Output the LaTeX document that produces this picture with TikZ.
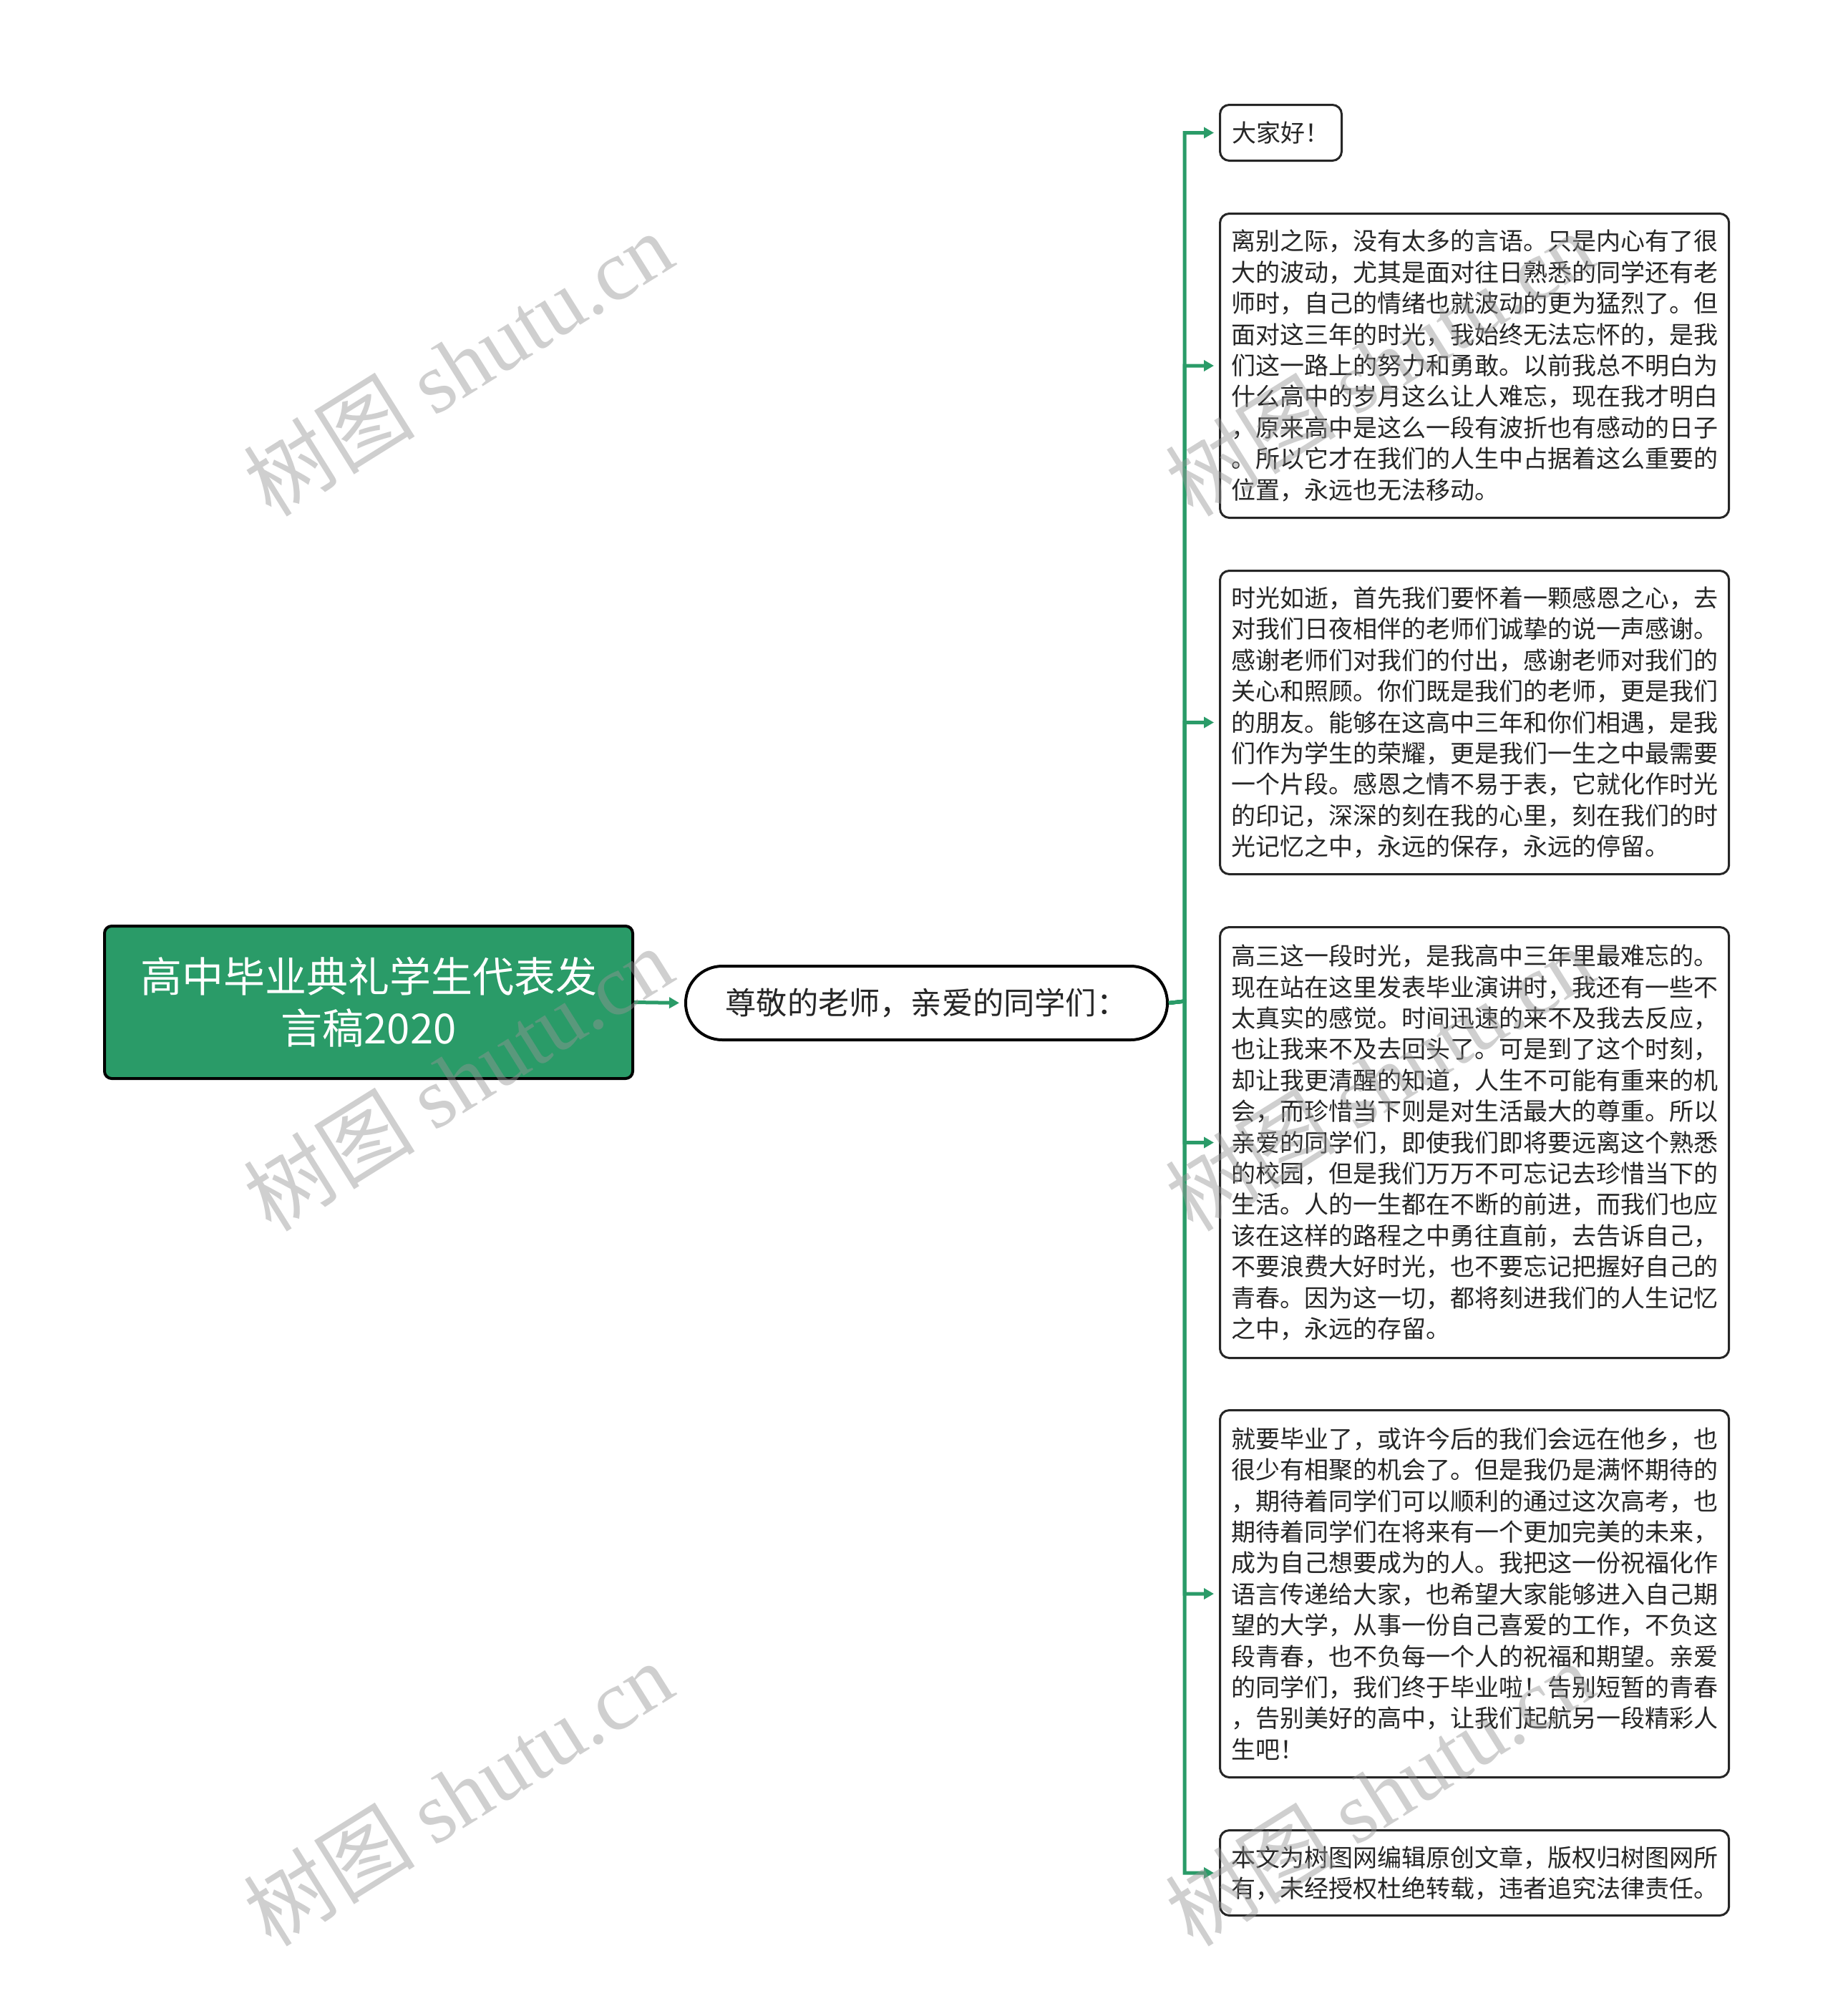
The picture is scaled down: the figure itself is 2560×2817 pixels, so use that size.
\documentclass[tikz,border=0pt]{standalone}
\usepackage{fontspec}
\setmainfont{Noto Sans CJK SC}
\newfontfamily\wmlatin{Liberation Serif}
\usetikzlibrary{arrows.meta}
\definecolor{mmgreen}{RGB}{42,155,104}
\definecolor{leaftext}{RGB}{38,38,38}
\definecolor{wmgray}{RGB}{150,150,150}
\begin{document}
\begin{tikzpicture}[x=0.25pt,y=-0.25pt,
  rootbox/.style={draw=black, line width=1pt, fill=mmgreen, rounded corners=2.5pt, text=white, align=center,
    font=\fontsize{14.5pt}{18pt}\selectfont, minimum width=184.5pt, minimum height=53.25pt, inner sep=0pt, anchor=north west},
  secbox/.style={draw=black, line width=1pt, fill=white, rounded corners=12.8pt, text=leaftext,
    font=\fontsize{10.8pt}{12pt}\selectfont, minimum width=168.25pt, minimum height=25.75pt, inner sep=0pt, anchor=north west},
  leafbox/.style={draw=leaftext, line width=0.75pt, fill=white, rounded corners=3.25pt, text=leaftext, align=left,
    font=\fontsize{8.5pt}{10.85pt}\selectfont, inner xsep=3.9pt, inner ysep=0pt, anchor=north west},
  leafwide/.style={leafbox, text width=170pt},
  conn/.style={draw=mmgreen, line width=1.25pt, -{Triangle[length=3.5pt,width=3.75pt]}, shorten >=1.75pt},
  wmark/.style={text=wmgray, opacity=0.45, rotate=32, font=\fontsize{30pt}{30pt}\selectfont, inner sep=0pt},
]
\useasboundingbox (0,0) rectangle (2560,2817);
\fill[white] (0,0) rectangle (2560,2817);

% root and second level
\node[rootbox] (root) at (144,1292) {高中毕业典礼学生代表发\\言稿2020};
\node[secbox] (sec) at (956,1348) {尊敬的老师，亲爱的同学们：};

% leaves
\node[leafbox, minimum width=42.5pt, minimum height=19.5pt] (b1) at (1703,145) {大家好！};
\node[leafwide, minimum height=106.25pt] (b2) at (1703,297) {离别之际，没有太多的言语。只是内心有了很\\大的波动，尤其是面对往日熟悉的同学还有老\\师时，自己的情绪也就波动的更为猛烈了。但\\面对这三年的时光，我始终无法忘怀的，是我\\们这一路上的努力和勇敢。以前我总不明白为\\什么高中的岁月这么让人难忘，现在我才明白\\，原来高中是这么一段有波折也有感动的日子\\。所以它才在我们的人生中占据着这么重要的\\位置，永远也无法移动。};
\node[leafwide, minimum height=106pt] (b3) at (1703,796) {时光如逝，首先我们要怀着一颗感恩之心，去\\对我们日夜相伴的老师们诚挚的说一声感谢。\\感谢老师们对我们的付出，感谢老师对我们的\\关心和照顾。你们既是我们的老师，更是我们\\的朋友。能够在这高中三年和你们相遇，是我\\们作为学生的荣耀，更是我们一生之中最需要\\一个片段。感恩之情不易于表，它就化作时光\\的印记，深深的刻在我的心里，刻在我们的时\\光记忆之中，永远的保存，永远的停留。};
\node[leafwide, minimum height=150.5pt] (b4) at (1703,1294) {高三这一段时光，是我高中三年里最难忘的。\\现在站在这里发表毕业演讲时，我还有一些不\\太真实的感觉。时间迅速的来不及我去反应，\\也让我来不及去回头了。可是到了这个时刻，\\却让我更清醒的知道，人生不可能有重来的机\\会，而珍惜当下则是对生活最大的尊重。所以\\亲爱的同学们，即使我们即将要远离这个熟悉\\的校园，但是我们万万不可忘记去珍惜当下的\\生活。人的一生都在不断的前进，而我们也应\\该在这样的路程之中勇往直前，去告诉自己，\\不要浪费大好时光，也不要忘记把握好自己的\\青春。因为这一切，都将刻进我们的人生记忆\\之中，永远的存留。};
\node[leafwide, minimum height=128.25pt] (b5) at (1703,1969) {就要毕业了，或许今后的我们会远在他乡，也\\很少有相聚的机会了。但是我仍是满怀期待的\\，期待着同学们可以顺利的通过这次高考，也\\期待着同学们在将来有一个更加完美的未来，\\成为自己想要成为的人。我把这一份祝福化作\\语言传递给大家，也希望大家能够进入自己期\\望的大学，从事一份自己喜爱的工作，不负这\\段青春，也不负每一个人的祝福和期望。亲爱\\的同学们，我们终于毕业啦！告别短暂的青春\\，告别美好的高中，让我们起航另一段精彩人\\生吧！};
\node[leafwide, minimum height=29.75pt] (b6) at (1703,2556) {本文为树图网编辑原创文章，版权归树图网所\\有，未经授权杜绝转载，违者追究法律责任。};

% connectors
\coordinate (j) at (1655,1399);
\draw[conn] (root.east) -- (sec.west);
\foreach \b in {b1,b2,b3,b4,b5,b6}{
  \draw[conn] (sec.east) -- (j) |- (\b.west);
}

% watermarks
\node[wmark] (w1) at (640,508) {树图 {\wmlatin shutu.cn}};
\node[wmark] (w2) at (640,1507) {树图 {\wmlatin shutu.cn}};
\node[wmark] (w3) at (640,2506) {树图 {\wmlatin shutu.cn}};
\node[wmark] (w4) at (1927,508) {树图 {\wmlatin shutu.cn}};
\node[wmark] (w5) at (1927,1507) {树图 {\wmlatin shutu.cn}};
\node[wmark] (w6) at (1927,2506) {树图 {\wmlatin shutu.cn}};
\end{tikzpicture}
\end{document}
